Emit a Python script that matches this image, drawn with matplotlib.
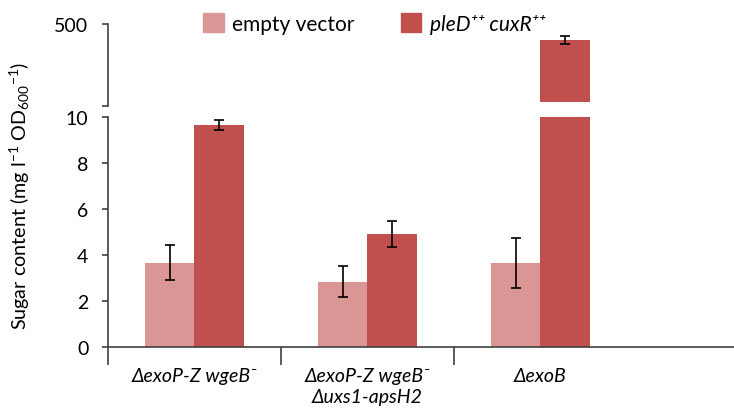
import numpy as np
import matplotlib
matplotlib.use('Agg')
import matplotlib.pyplot as plt
from matplotlib.patches import Patch

plt.rcParams['font.family'] = ['Lato', 'DejaVu Sans']
plt.rcParams['mathtext.fontset'] = 'custom'
plt.rcParams['mathtext.rm'] = 'Lato'
plt.rcParams['mathtext.it'] = 'Lato:italic'

# dati
categorie = ['ΔexoP-Z wgeB⁻', 'ΔexoP-Z wgeB⁻\nΔuxs1-apsH2', 'ΔexoB']
empty_vector = [3.67, 2.85, 3.65]
empty_err = [0.76, 0.69, 1.10]
pled_cuxr = [9.65, 4.92, 404]
pled_err = [0.22, 0.55, 22]

c_light = '#D99694'
c_dark = '#C0504D'
c_axis = '#404040'

fig = plt.figure(figsize=(7.34, 4.10), dpi=100)
ax = fig.add_axes([0.147, 0.151, 0.853, 0.561])
ax_top = fig.add_axes([0.147, 0.740, 0.853, 0.199])

x = np.arange(len(categorie))
w = 0.285
err_kw = dict(ecolor='black', capsize=3.5, elinewidth=1.2, capthick=1.2)

ax.bar(x - w / 2, empty_vector, w, color=c_light)
ax.bar(x + w / 2, pled_cuxr, w, color=c_dark)
# nel pannello alto solo la barra fuori scala, che parte un po' sopra il limite (stacco)
stacco = 32
alti = np.array(pled_cuxr[2:])
ax_top.bar(x[2:] + w / 2, alti - stacco, w, bottom=stacco, color=c_dark)

# barre di errore: quelle basse nel pannello inferiore, quella alta in quello superiore
ax.errorbar(x - w / 2, empty_vector, yerr=empty_err, fmt='none', **err_kw)
ax.errorbar(x[:2] + w / 2, pled_cuxr[:2], yerr=pled_err[:2], fmt='none', **err_kw)
ax_top.errorbar(x[2:] + w / 2, alti, yerr=pled_err[2:], fmt='none', **err_kw)

# pannello inferiore
ax.set_ylim(0, 10)
ax.set_xlim(-0.5, 3.12)
ax.set_yticks([0, 2, 4, 6, 8, 10])
for s in ('top', 'right'):
    ax.spines[s].set_visible(False)
for s in ('left', 'bottom'):
    ax.spines[s].set_color(c_axis)
    ax.spines[s].set_linewidth(1.2)
ax.tick_params(axis='y', direction='out', length=4, width=1.2, color=c_axis,
               labelsize=14, pad=10)
ax.set_xticks([-0.5, 0.5, 1.5])
ax.set_xticklabels([])
ax.tick_params(axis='x', which='major', direction='out', length=13, width=1.2, color=c_axis)
ax.set_xticks(x, minor=True)
ax.set_xticklabels(categorie, minor=True, fontstyle='italic', fontsize=14, linespacing=1.3)
ax.tick_params(axis='x', which='minor', length=0, pad=14)
ax.set_ylabel('Sugar content (mg l$^{-1}$ OD$_{600}$$^{-1}$)', fontsize=14.2)
ax.yaxis.set_label_coords(-0.122, 0.66)

# pannello superiore (asse interrotto)
ax_top.set_ylim(10, 500)
ax_top.set_xlim(-0.5, 3.12)
ax_top.set_yticks([10, 500])
ax_top.set_yticklabels(['', '500'])
for s in ('top', 'right', 'bottom'):
    ax_top.spines[s].set_visible(False)
ax_top.spines['left'].set_color(c_axis)
ax_top.spines['left'].set_linewidth(1.2)
ax_top.tick_params(axis='y', direction='out', length=4, width=1.2, color=c_axis,
                   labelsize=14, pad=10)
ax_top.set_xticks([])

handles = [Patch(color=c_light, label='empty vector'),
           Patch(color=c_dark, label='pleD⁺⁺ cuxR⁺⁺')]
leg = fig.legend(handles=handles, loc='center', bbox_to_anchor=(0.51, 0.94), ncol=2,
                 frameon=False, fontsize=15, handlelength=1.0, handleheight=1.0,
                 handletextpad=0.4, columnspacing=2.2)
leg.get_texts()[1].set_fontstyle('italic')

fig.savefig('out.png', dpi=100)
